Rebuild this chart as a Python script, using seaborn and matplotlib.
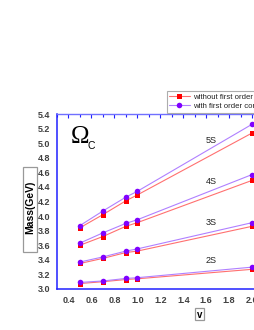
import matplotlib
matplotlib.use("Agg")
import matplotlib.pyplot as plt
from matplotlib.patches import Rectangle
from matplotlib.ticker import MultipleLocator, FormatStrFormatter
import seaborn as sns
import pandas as pd

v = [0.5, 0.7, 0.9, 1.0, 2.0]
states = ["2S", "3S", "4S", "5S"]
without_corr = {
    "2S": [3.075, 3.10, 3.13, 3.14, 3.27],
    "3S": [3.35, 3.42, 3.50, 3.52, 3.86],
    "4S": [3.60, 3.72, 3.86, 3.91, 4.49],
    "5S": [3.84, 4.02, 4.21, 4.29, 5.14],
}
with_corr = {
    "2S": [3.09, 3.11, 3.145, 3.155, 3.30],
    "3S": [3.37, 3.44, 3.52, 3.55, 3.91],
    "4S": [3.63, 3.77, 3.90, 3.95, 4.57],
    "5S": [3.87, 4.07, 4.26, 4.34, 5.26],
}
label_pos = {"2S": (1.64, 3.39), "3S": (1.64, 3.91), "4S": (1.64, 4.48), "5S": (1.64, 5.03)}
series_names = ["without first order correction", "with first order correction"]

sns.set_theme(style="white")
plt.rcParams["font.family"] = ["Liberation Sans", "DejaVu Sans"]

fig = plt.figure(figsize=(2.55, 3.3), dpi=100)
ax = fig.add_axes([57 / 255, 1 - 289 / 330, 287 / 255, 175 / 330])

rows = []
for s in states:
    for xv, yv in zip(v, without_corr[s]):
        rows.append({"v": xv, "mass": yv, "state": s, "series": series_names[0]})
    for xv, yv in zip(v, with_corr[s]):
        rows.append({"v": xv, "mass": yv, "state": s, "series": series_names[1]})
df = pd.DataFrame(rows)

styles = {
    series_names[0]: dict(color="#ff0000", line="#ff7070", marker="s", ms=3.6),
    series_names[1]: dict(color="#8000ff", line="#b080ff", marker="o", ms=4.0),
}
for name in series_names:
    st = styles[name]
    for i, s in enumerate(states):
        sub = df[(df.series == name) & (df.state == s)]
        sns.lineplot(data=sub, x="v", y="mass", ax=ax, color=st["line"], lw=0.8,
                     marker=st["marker"], markersize=st["ms"], markerfacecolor=st["color"],
                     markeredgecolor=st["color"], markeredgewidth=0,
                     label=name if i == 0 else None, legend=False)

for s in states:
    ax.text(label_pos[s][0], label_pos[s][1], s, fontsize=6.5, color="#222222",
            ha="center", va="center")

ax.set_xlim(0.3, 2.8)
ax.set_ylim(3.0, 5.4)
ax.xaxis.set_major_locator(MultipleLocator(0.2))
ax.xaxis.set_minor_locator(MultipleLocator(0.1))
ax.yaxis.set_major_locator(MultipleLocator(0.2))
ax.yaxis.set_minor_locator(MultipleLocator(0.1))
ax.xaxis.set_major_formatter(FormatStrFormatter("%.1f"))
ax.yaxis.set_major_formatter(FormatStrFormatter("%.1f"))
ax.set_xlabel("")
ax.set_ylabel("")

blue = "#2020ff"
for side in ["left", "bottom", "right"]:
    ax.spines[side].set_color(blue)
    ax.spines[side].set_linewidth(1.1)
ax.spines["top"].set_color("#7070ff")
ax.spines["top"].set_linewidth(1.0)

ax.tick_params(axis="both", which="major", direction="out", length=3, width=0.8,
               color=blue, labelsize=6.5, labelcolor="#404040", pad=2)
ax.tick_params(axis="both", which="minor", direction="out", length=2, width=0.8, color=blue)
ax.tick_params(axis="x", which="both", top=False)
for lab in ax.get_xticklabels() + ax.get_yticklabels():
    lab.set_fontweight("bold")

# Top ticks inward
secx = ax.secondary_xaxis("top")
secx.xaxis.set_major_locator(MultipleLocator(0.2))
secx.xaxis.set_minor_locator(MultipleLocator(0.1))
secx.tick_params(which="major", direction="in", length=3, width=0.8, color=blue, labeltop=False)
secx.tick_params(which="minor", direction="in", length=2, width=0.8, color=blue)
secx.spines["top"].set_visible(False)

# Legend
leg = ax.legend(loc="upper left", bbox_to_anchor=(167 / 255, 1 - 91 / 330),
                bbox_transform=fig.transFigure, fontsize=5.6, frameon=True,
                fancybox=False, borderpad=0.3, labelspacing=0.25, handlelength=2.6,
                handletextpad=0.4, borderaxespad=0)
leg.get_frame().set_edgecolor("#999999")
leg.get_frame().set_linewidth(0.8)
for t in leg.get_texts():
    t.set_color("#222222")

# Omega_C label
fig.text(80 / 255, 1 - 143 / 330, "\u03A9", fontsize=18, family="Liberation Serif",
         ha="center", va="baseline", color="black")
fig.text(91.5 / 255, 1 - 149 / 330, "C", fontsize=7.5, ha="center", va="baseline",
         color="black")

# Y label in a box
fig.patches.append(Rectangle((23 / 255, 1 - 252 / 330), 14 / 255, 85 / 330,
                             transform=fig.transFigure, fill=False,
                             edgecolor="#999999", linewidth=0.9))
fig.text(30 / 255, 1 - 207 / 330, "Mass(GeV)", rotation=90, fontsize=7.5,
         fontweight="bold", ha="center", va="center", color="black")

# X label in a box
fig.patches.append(Rectangle((195 / 255, 1 - 320 / 330), 9 / 255, 12 / 330,
                             transform=fig.transFigure, fill=False,
                             edgecolor="#999999", linewidth=0.9))
fig.text(199.5 / 255, 1 - 314.5 / 330, "v", fontsize=7, fontweight="bold",
         ha="center", va="center", color="black")

fig.savefig("out.png", dpi=100)
